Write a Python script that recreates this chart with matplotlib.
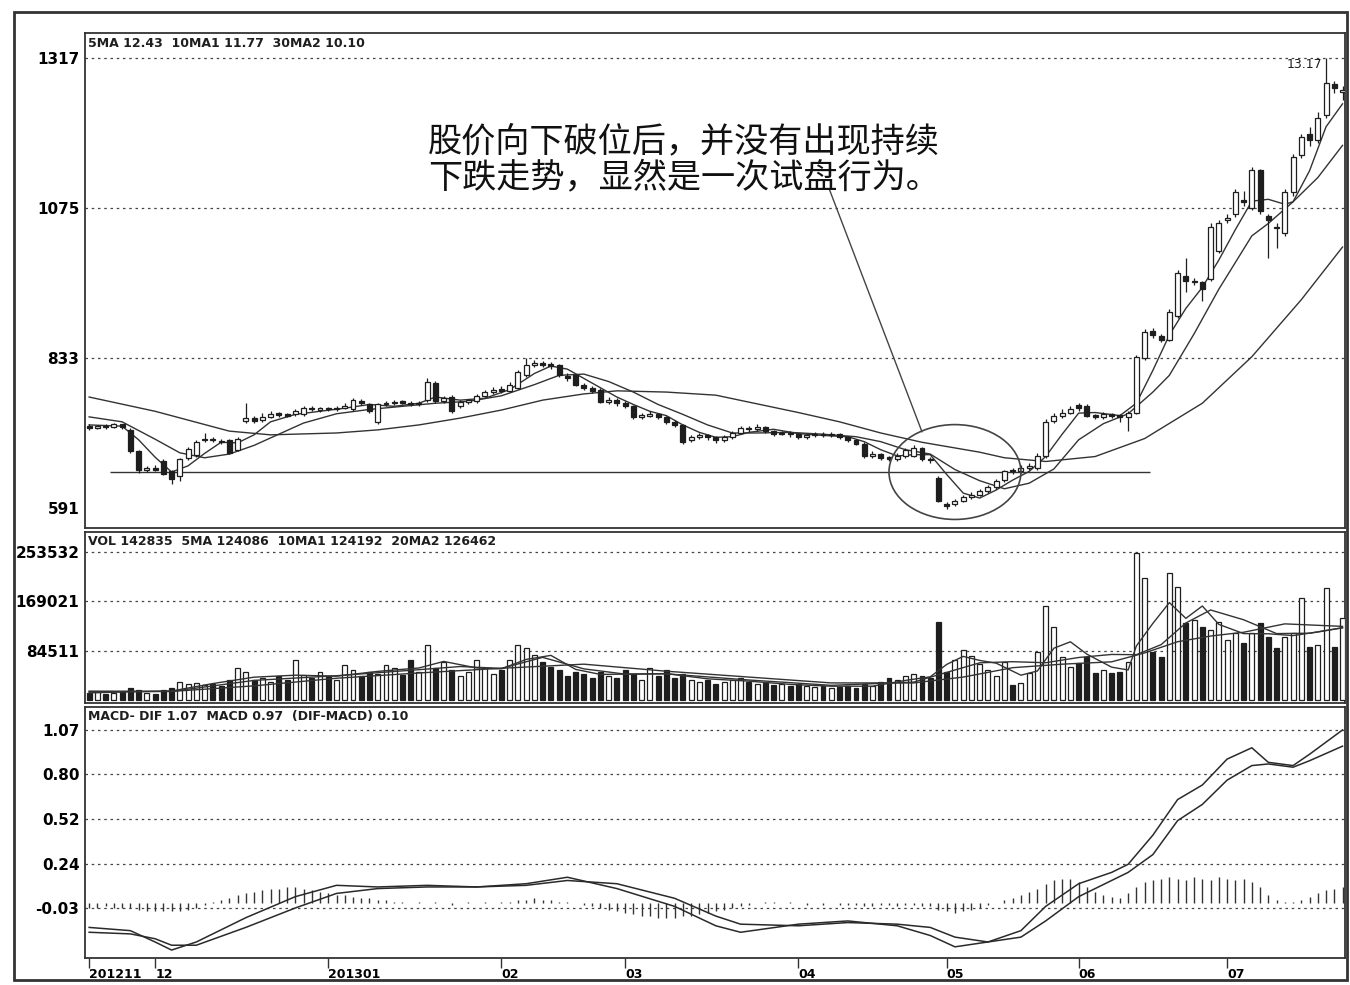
import matplotlib
matplotlib.use("Agg")
import matplotlib.pyplot as plt
from matplotlib.patches import Ellipse, Rectangle
import numpy as np

plt.rcParams['font.family'] = ['DejaVu Sans']

# ---- K线 ----
opens = [7.24, 7.20, 7.23, 7.21, 7.26, 7.17, 6.83, 6.52, 6.55, 6.67,
         6.50, 6.42, 6.72, 6.76, 7.00, 7.03, 6.99, 7.00, 6.85, 7.32,
         7.36, 7.33, 7.38, 7.43, 7.41, 7.42, 7.42, 7.53, 7.49, 7.51,
         7.50, 7.53, 7.50, 7.64, 7.58, 7.30, 7.58, 7.60, 7.62, 7.61,
         7.58, 7.65, 7.93, 7.64, 7.70, 7.55, 7.62, 7.64, 7.72, 7.78,
         7.83, 7.80, 7.85, 8.05, 8.22, 8.25, 8.22, 8.22, 8.04, 8.05,
         7.90, 7.85, 7.82, 7.62, 7.65, 7.60, 7.55, 7.38, 7.40, 7.43,
         7.38, 7.30, 7.25, 7.00, 7.05, 7.08, 7.05, 7.00, 7.05, 7.12,
         7.20, 7.18, 7.22, 7.15, 7.10, 7.12, 7.10, 7.05, 7.08, 7.10,
         7.08, 7.10, 7.05, 7.00, 6.95, 6.75, 6.78, 6.72, 6.70, 6.75,
         6.75, 6.88, 6.70, 6.40, 5.98, 5.98, 6.02, 6.08, 6.12, 6.18,
         6.25, 6.36, 6.52, 6.50, 6.55, 6.55, 6.75, 7.32, 7.40, 7.45,
         7.57, 7.55, 7.40, 7.38, 7.42, 7.40, 7.38, 7.45, 8.33, 8.76,
         8.68, 8.62, 9.00, 9.65, 9.55, 9.55, 9.60, 10.05, 10.55, 10.65,
         10.88, 10.75, 11.36, 10.62, 10.45, 10.35, 11.00, 11.60, 11.95, 11.85,
         12.25, 12.75, 12.62]
closes = [7.20, 7.23, 7.21, 7.26, 7.22, 6.83, 6.52, 6.55, 6.53, 6.46,
          6.38, 6.70, 6.86, 6.97, 7.03, 7.00, 6.97, 6.80, 7.02, 7.36,
          7.32, 7.38, 7.43, 7.41, 7.40, 7.47, 7.53, 7.50, 7.51, 7.50,
          7.53, 7.56, 7.65, 7.60, 7.47, 7.58, 7.60, 7.62, 7.61, 7.58,
          7.60, 7.95, 7.63, 7.68, 7.47, 7.62, 7.63, 7.72, 7.78, 7.82,
          7.80, 7.90, 8.10, 8.22, 8.25, 8.22, 8.20, 8.05, 8.00, 7.90,
          7.85, 7.80, 7.62, 7.65, 7.60, 7.55, 7.38, 7.40, 7.43, 7.38,
          7.30, 7.25, 6.98, 7.05, 7.08, 7.05, 7.00, 7.05, 7.12, 7.20,
          7.18, 7.22, 7.15, 7.10, 7.12, 7.10, 7.05, 7.08, 7.10, 7.08,
          7.10, 7.05, 7.00, 6.95, 6.75, 6.78, 6.72, 6.70, 6.75, 6.85,
          6.88, 6.70, 6.68, 6.02, 5.95, 6.02, 6.08, 6.12, 6.18, 6.25,
          6.35, 6.50, 6.50, 6.55, 6.58, 6.75, 7.30, 7.40, 7.45, 7.50,
          7.53, 7.40, 7.38, 7.42, 7.40, 7.38, 7.45, 8.35, 8.75, 8.70,
          8.62, 9.07, 9.70, 9.57, 9.57, 9.45, 10.45, 10.50, 10.59, 11.00,
          10.85, 11.36, 10.70, 10.55, 10.42, 11.00, 11.57, 11.90, 11.85, 12.20,
          12.77, 12.68, 12.66]
highs = [7.26, 7.25, 7.26, 7.28, 7.27, 7.20, 6.85, 6.58, 6.60, 6.70,
         6.52, 6.72, 6.90, 7.00, 7.12, 7.06, 7.02, 7.02, 7.06, 7.60,
         7.40, 7.44, 7.48, 7.46, 7.45, 7.50, 7.55, 7.56, 7.54, 7.54,
         7.56, 7.60, 7.68, 7.67, 7.61, 7.60, 7.64, 7.66, 7.65, 7.63,
         7.64, 8.00, 7.96, 7.72, 7.73, 7.66, 7.67, 7.75, 7.82, 7.86,
         7.87, 7.94, 8.14, 8.33, 8.30, 8.28, 8.26, 8.24, 8.08, 8.07,
         7.93, 7.88, 7.84, 7.70, 7.68, 7.63, 7.57, 7.45, 7.47, 7.45,
         7.40, 7.33, 7.27, 7.09, 7.12, 7.10, 7.07, 7.08, 7.15, 7.24,
         7.23, 7.26, 7.24, 7.17, 7.16, 7.15, 7.12, 7.11, 7.14, 7.13,
         7.13, 7.12, 7.07, 7.02, 6.97, 6.83, 6.80, 6.75, 6.79, 6.88,
         6.92, 6.90, 6.73, 6.42, 6.00, 6.06, 6.12, 6.16, 6.22, 6.28,
         6.38, 6.53, 6.56, 6.60, 6.63, 6.80, 7.35, 7.45, 7.50, 7.55,
         7.60, 7.58, 7.43, 7.46, 7.45, 7.43, 7.48, 8.38, 8.80, 8.82,
         8.72, 9.12, 9.75, 9.95, 9.62, 9.58, 10.50, 10.55, 10.65, 11.05,
         11.02, 11.41, 11.38, 10.66, 10.50, 11.05, 11.62, 11.95, 12.05, 12.30,
         13.17, 12.80, 12.72]
lows = [7.17, 7.18, 7.19, 7.20, 7.19, 6.80, 6.48, 6.49, 6.50, 6.44,
        6.30, 6.35, 6.68, 6.74, 6.98, 6.97, 6.94, 6.78, 6.83, 7.28,
        7.28, 7.30, 7.36, 7.38, 7.37, 7.40, 7.40, 7.47, 7.46, 7.47,
        7.48, 7.51, 7.48, 7.57, 7.45, 7.27, 7.55, 7.57, 7.58, 7.55,
        7.55, 7.62, 7.60, 7.60, 7.45, 7.52, 7.58, 7.61, 7.70, 7.75,
        7.76, 7.78, 7.83, 8.02, 8.18, 8.18, 8.16, 8.02, 7.96, 7.87,
        7.82, 7.76, 7.60, 7.58, 7.56, 7.52, 7.35, 7.35, 7.37, 7.34,
        7.27, 7.22, 6.95, 6.97, 7.02, 7.01, 6.96, 6.98, 7.03, 7.10,
        7.14, 7.15, 7.12, 7.07, 7.08, 7.06, 7.02, 7.02, 7.05, 7.05,
        7.05, 7.02, 6.97, 6.92, 6.72, 6.72, 6.68, 6.66, 6.67, 6.72,
        6.73, 6.67, 6.64, 6.00, 5.90, 5.95, 6.00, 6.05, 6.10, 6.15,
        6.22, 6.33, 6.46, 6.47, 6.52, 6.52, 6.72, 7.28, 7.36, 7.42,
        7.48, 7.37, 7.34, 7.34, 7.36, 7.30, 7.15, 7.42, 8.30, 8.66,
        8.58, 8.60, 8.97, 9.40, 9.50, 9.25, 9.58, 10.02, 10.50, 10.60,
        10.78, 10.72, 10.65, 9.95, 10.10, 10.30, 10.95, 11.55, 11.75, 11.80,
        12.20, 12.60, 12.50]

# 均线读点 (K线序号, 价格)
ma5_idx = [0, 4, 6, 8, 10, 12, 14, 16, 18, 20, 22, 25, 28, 31, 34, 37, 40, 42, 45, 48,
           51, 54, 56, 58, 60, 62, 64, 66, 68, 70, 72, 74, 76, 78, 80, 83, 86, 89, 92, 94,
           96, 98, 100, 102, 104, 106, 108, 110, 112, 114, 116, 118, 120, 122, 125, 127, 129,
           131, 133, 135, 137, 139, 141, 143, 145, 146, 148, 150, 152]
ma5 = [7.25, 7.23, 7.01, 6.73, 6.49, 6.59, 6.79, 6.97, 6.96, 7.09, 7.30, 7.42, 7.47, 7.52,
       7.58, 7.55, 7.60, 7.70, 7.65, 7.68, 7.82, 8.08, 8.20, 8.15, 8.00, 7.85, 7.70, 7.58,
       7.47, 7.40, 7.25, 7.13, 7.05, 7.06, 7.13, 7.18, 7.11, 7.08, 7.06, 6.98, 6.85, 6.75,
       6.77, 6.77, 6.45, 6.15, 6.07, 6.20, 6.36, 6.50, 6.74, 7.10, 7.44, 7.45, 7.40, 7.60,
       8.13, 8.70, 9.13, 9.47, 9.91, 10.40, 10.86, 10.89, 10.81, 10.85, 11.35, 12.06, 12.43]
ma10_idx = [0, 4, 8, 11, 14, 17, 20, 23, 26, 30, 34, 38, 42, 46, 50, 54, 57, 60, 63, 66,
            69, 72, 75, 78, 81, 85, 89, 93, 96, 99, 102, 105, 108, 111, 114, 117, 120, 123,
            126, 129, 131, 134, 137, 141, 143, 146, 149, 152]
ma10 = [7.38, 7.30, 7.02, 6.80, 6.72, 6.78, 6.92, 7.10, 7.28, 7.43, 7.50, 7.55, 7.60, 7.63,
        7.72, 7.90, 8.05, 8.07, 7.95, 7.78, 7.58, 7.42, 7.25, 7.12, 7.12, 7.13, 7.10, 7.06,
        6.98, 6.85, 6.78, 6.53, 6.35, 6.22, 6.31, 6.54, 7.01, 7.27, 7.43, 7.78, 8.05, 8.72,
        9.44, 10.30, 10.50, 10.85, 11.24, 11.76]
ma30_idx = [0, 8, 17, 22, 30, 35, 40, 45, 50, 55, 60, 64, 70, 76, 86, 91, 96, 101, 108,
            111, 116, 122, 128, 135, 141, 147, 152]
ma30 = [7.70, 7.47, 7.15, 7.09, 7.12, 7.17, 7.25, 7.36, 7.49, 7.65, 7.75, 7.80, 7.78, 7.73,
        7.45, 7.30, 7.12, 6.97, 6.81, 6.72, 6.66, 6.74, 7.03, 7.60, 8.35, 9.27, 10.12]

# ---- 成交量 ----
volumes = [12800, 14500, 11100, 12800, 14500, 21300, 17900, 12800, 11100, 17900,
           21300, 31600, 28200, 29900, 26500, 28200, 24800, 35000, 55500, 48600,
           35000, 38400, 31600, 41800, 35000, 69100, 43500, 38400, 48600, 41800,
           35000, 60600, 52100, 41800, 48600, 45200, 60600, 55500, 43500, 69100,
           48600, 94700, 55500, 65700, 52100, 41800, 48600, 69100, 55500, 45200,
           52100, 69100, 94700, 89600, 77700, 65700, 57200, 52100, 41800, 48600,
           45200, 38400, 48600, 41800, 38400, 52100, 45200, 35000, 55500, 41800,
           52100, 38400, 45200, 35000, 31600, 35000, 28200, 31600, 35000, 38400,
           31600, 28200, 29900, 26500, 28200, 24800, 28200, 24800, 23000, 24800,
           21300, 23000, 24800, 21300, 28200, 24800, 31600, 38400, 35000, 41800,
           45200, 41800, 38400, 134000, 48600, 69100, 86200, 76000, 62300, 52100,
           41800, 65700, 26500, 29900, 47000, 82800, 161300, 125500, 74300, 57200,
           64000, 74300, 47000, 52100, 47000, 48700, 65700, 251800, 209100, 82800,
           74300, 217700, 193800, 132300, 137400, 125500, 120400, 134000, 103300, 115200,
           98200, 115200, 132300, 108400, 89600, 108400, 115200, 175000, 91300, 94800,
           192100, 91300, 140900]
vma5_idx = [0, 5, 10, 15, 20, 25, 30, 35, 40, 43, 47, 50, 53, 56, 59, 62, 66, 70, 75, 80,
            85, 90, 95, 99, 102, 104, 106, 108, 110, 113, 115, 117, 119, 121, 124, 126, 127,
            129, 131, 133, 135, 137, 140, 143, 146, 149, 152]
vma5 = [13100, 14800, 16200, 28900, 39800, 43200, 41500, 49700, 55500, 66700, 55500, 54100,
        70100, 77000, 53100, 44500, 45200, 45900, 37000, 33000, 27500, 24400, 24400, 34300,
        40400, 61600, 75300, 68400, 63700, 43200, 50400, 89300, 100200, 79100, 56900, 52100,
        93100, 131600, 167100, 140200, 161300, 129900, 114200, 113900, 110800, 116900, 124100]
vma10_idx = [0, 10, 20, 30, 40, 45, 50, 55, 60, 65, 70, 80, 90, 100, 104, 108, 112, 116,
             120, 124, 127, 130, 133, 136, 140, 144, 148, 152]
vma10 = [15000, 15500, 34300, 42300, 52600, 58000, 54800, 73600, 54000, 45000, 45500, 35000,
         25900, 31400, 48000, 64300, 66200, 64500, 73400, 78600, 78200, 95300, 132300, 154500,
         137800, 114200, 114900, 124200]
vma20_idx = [0, 10, 20, 30, 40, 50, 60, 70, 80, 90, 100, 106, 112, 118, 124, 128, 132, 136,
             140, 145, 152]
vma20 = [16000, 15500, 25000, 38000, 47000, 55000, 62000, 50000, 40000, 30000, 30000, 40000,
         56000, 62000, 66000, 81200, 100300, 110000, 116500, 130800, 126500]

# ---- MACD ----
dif_idx = [0, 5, 8, 10, 13, 19, 25, 30, 35, 41, 47, 53, 58, 64, 71, 76, 79, 86, 92, 98,
           102, 105, 109, 113, 116, 120, 124, 126, 129, 132, 135, 138, 141, 143, 146, 148, 152]
dif = [-0.15, -0.17, -0.24, -0.29, -0.24, -0.09, 0.04, 0.11, 0.10, 0.11, 0.10, 0.12, 0.16,
       0.09, -0.02, -0.14, -0.18, -0.13, -0.11, -0.14, -0.20, -0.27, -0.24, -0.17, -0.02,
       0.12, 0.19, 0.24, 0.42, 0.64, 0.73, 0.89, 0.96, 0.87, 0.85, 0.92, 1.07]
dea = [-0.18, -0.19, -0.22, -0.26, -0.26, -0.15, -0.03, 0.06, 0.09, 0.10, 0.10, 0.11, 0.14,
       0.12, 0.03, -0.08, -0.13, -0.14, -0.12, -0.13, -0.15, -0.21, -0.24, -0.21, -0.11,
       0.04, 0.14, 0.19, 0.30, 0.51, 0.61, 0.76, 0.85, 0.86, 0.84, 0.88, 0.97]
macd_hist = [-0.03, -0.03, -0.02, -0.03, -0.03, -0.03, -0.04, -0.05, -0.05, -0.05,
             -0.05, -0.05, -0.04, -0.03, -0.01, 0.01, 0.02, 0.03, 0.05, 0.06,
             0.07, 0.08, 0.09, 0.09, 0.10, 0.10, 0.09, 0.08, 0.07, 0.06,
             0.05, 0.05, 0.04, 0.03, 0.03, 0.02, 0.02, 0.01, 0.01, 0.00,
             0.01, 0.00, 0.01, 0.00, -0.01, 0.00, 0.01, 0.00, 0.01, 0.00,
             0.01, 0.01, 0.02, 0.02, 0.03, 0.02, 0.02, 0.01, 0.01, 0.00,
             -0.01, -0.02, -0.03, -0.04, -0.05, -0.06, -0.07, -0.08, -0.08, -0.09,
             -0.09, -0.09, -0.08, -0.08, -0.07, -0.06, -0.05, -0.04, -0.03, -0.02,
             -0.01, 0.00, 0.01, 0.01, 0.00, 0.01, 0.00, -0.01, 0.00, -0.01,
             0.00, -0.01, -0.01, -0.01, -0.02, -0.02, -0.01, -0.01, -0.02, -0.01,
             -0.01, -0.02, -0.02, -0.04, -0.05, -0.06, -0.05, -0.04, -0.03, -0.01,
             0.00, 0.02, 0.03, 0.05, 0.07, 0.09, 0.12, 0.14, 0.15, 0.15,
             0.13, 0.10, 0.07, 0.05, 0.04, 0.03, 0.06, 0.10, 0.13, 0.14,
             0.15, 0.16, 0.15, 0.14, 0.16, 0.15, 0.14, 0.16, 0.15, 0.14,
             0.15, 0.13, 0.10, 0.05, 0.02, 0.01, 0.01, 0.02, 0.04, 0.06,
             0.08, 0.09, 0.10]

month_pos = [0, 8, 29, 50, 65, 86, 104, 120, 138]
month_lbl = ['201211', '12', '201301', '02', '03', '04', '05', '06', '07']

price_ticks = [13.17, 10.75, 8.33, 5.91]
price_lbl = ['1317', '1075', '833', '591']
vol_ticks = [253532, 169021, 84511]
macd_ticks = [1.07, 0.80, 0.52, 0.24, -0.03]

header_price = '5MA 12.43  10MA1 11.77  30MA2 10.10'
header_vol = 'VOL 142835  5MA 124086  10MA1 124192  20MA2 126462'
header_macd = 'MACD- DIF 1.07  MACD 0.97  (DIF-MACD) 0.10'
note = '股价向下破位后，并没有出现持续\n下跌走势，显然是一次试盘行为。'

# 标注位置
support_level = 6.49
support_span = (2.5, 128.6)
circle_center = (105.0, 6.49)
circle_size = (16.0, 1.53)
pointer = ((89.8, 11.04), (101.0, 7.14))

W, H = 1350, 985
fig = plt.figure(figsize=(13.5, 9.85), dpi=100)
fig.patch.set_facecolor('white')


def px_axes(x0, y0, x1, y1):
    return fig.add_axes([x0 / W, 1 - y1 / H, (x1 - x0) / W, (y1 - y0) / H])


ax1 = px_axes(85, 33, 1345, 528)
ax2 = px_axes(85, 532, 1345, 703)
ax3 = px_axes(85, 707, 1345, 958)

N = len(closes)
x = np.arange(N)
o = np.array(opens)
c = np.array(closes)
up = c >= o
ink = '#1e1e1e'
grid_kw = dict(color='#444444', lw=0.9, ls=(0, (2, 3)), zorder=1)

for ax in (ax1, ax2, ax3):
    ax.set_xlim(-0.5, 152.3)
    for s in ax.spines.values():
        s.set_color('#333333')
        s.set_linewidth(1.3)
    ax.tick_params(axis='y', length=0, pad=4, labelsize=11)

# 主图 K线
ax1.vlines(x, lows, highs, color=ink, lw=0.9, zorder=3)
bb = np.minimum(o, c)
bh = np.maximum(np.abs(c - o), 0.025)
ax1.bar(x[up], bh[up], bottom=bb[up], width=0.6, facecolor='white', edgecolor=ink, lw=0.9, zorder=4)
ax1.bar(x[~up], bh[~up], bottom=bb[~up], width=0.6, facecolor=ink, edgecolor=ink, lw=0.9, zorder=4)
ax1.plot(ma5_idx, ma5, color='#333333', lw=1.0, zorder=2)
ax1.plot(ma10_idx, ma10, color='#333333', lw=1.0, zorder=2)
ax1.plot(ma30_idx, ma30, color='#333333', lw=1.0, zorder=2)
ax1.set_ylim(5.587, 13.573)
ax1.set_yticks(price_ticks)
ax1.set_yticklabels(price_lbl, fontweight='bold')
for v in price_ticks[:3]:
    ax1.axhline(v, **grid_kw)
ax1.set_xticks([])
ax1.hlines(support_level, support_span[0], support_span[1], color='#333333', lw=1.0, zorder=2)
ax1.add_patch(Ellipse(circle_center, circle_size[0], circle_size[1], fill=False,
                      edgecolor='#444444', lw=1.2, zorder=5))
ax1.plot([pointer[0][0], pointer[1][0]], [pointer[0][1], pointer[1][1]], color='#444444', lw=1.0, zorder=5)
ax1.text(149.6, 13.17, '13.17', ha='right', va='top', fontsize=9, color=ink)
ax1.text(0.0025, 0.978, header_price, transform=ax1.transAxes, ha='left', va='center',
         fontsize=9, fontweight='bold', color=ink)

# 成交量
vb = np.array(volumes)
ax2.bar(x[up], vb[up], width=0.6, facecolor='white', edgecolor=ink, lw=0.9, zorder=3)
ax2.bar(x[~up], vb[~up], width=0.6, facecolor=ink, edgecolor=ink, lw=0.9, zorder=3)
ax2.plot(vma5_idx, vma5, color='#333333', lw=1.0, zorder=4)
ax2.plot(vma10_idx, vma10, color='#333333', lw=1.0, zorder=4)
ax2.plot(vma20_idx, vma20, color='#333333', lw=1.0, zorder=4)
ax2.set_ylim(-4270, 287600)
ax2.set_yticks(vol_ticks)
ax2.set_yticklabels([str(v) for v in vol_ticks], fontweight='bold')
for v in vol_ticks:
    ax2.axhline(v, **grid_kw)
ax2.set_xticks([])
ax2.text(0.0025, 0.947, header_vol, transform=ax2.transAxes, ha='left', va='center',
         fontsize=9, fontweight='bold', color=ink)

# MACD
ax3.vlines(x, 0, macd_hist, color='#333333', lw=1.0, zorder=3)
ax3.plot(dif_idx, dif, color='#2a2a2a', lw=1.1, zorder=4)
ax3.plot(dif_idx, dea, color='#2a2a2a', lw=1.1, zorder=4)
ax3.set_ylim(-0.339, 1.212)
ax3.set_yticks(macd_ticks)
ax3.set_yticklabels(['%.2f' % v for v in macd_ticks], fontweight='bold')
for v in macd_ticks:
    ax3.axhline(v, **grid_kw)
ax3.set_xticks(month_pos)
ax3.set_xticklabels(month_lbl, fontsize=9, fontweight='bold', ha='left')
ax3.tick_params(axis='x', direction='out', length=7, width=1.0, color='#333333', pad=0)
ax3.text(0.0025, 0.964, header_macd, transform=ax3.transAxes, ha='left', va='center',
         fontsize=9, fontweight='bold', color=ink)

# 文字说明
fig.text(428 / W, 1 - 161 / H, note, ha='left', va='center', fontsize=24.6,
         family=['Noto Sans CJK SC', 'DejaVu Sans'], color='#111111', linespacing=1.02)

# 外框
fig.add_artist(Rectangle((14 / W, 1 - 980 / H), (1347 - 14) / W, (980 - 12) / H,
                         transform=fig.transFigure, fill=False, edgecolor='#333333', lw=2.0))

fig.savefig('out.png', dpi=100)
